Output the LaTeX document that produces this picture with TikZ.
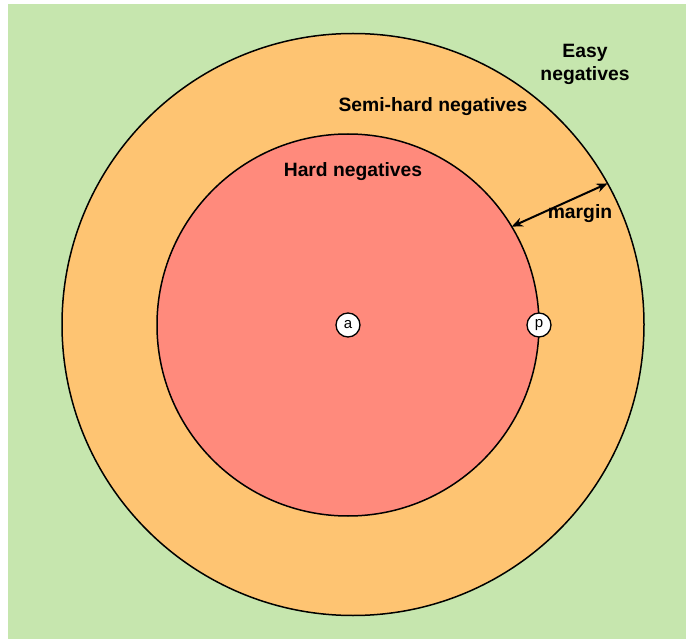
\documentclass[tikz,border=0pt]{standalone}
\usepackage{fontspec}
\setmainfont{Liberation Sans}
\usetikzlibrary{arrows.meta}
\definecolor{easygreen}{RGB}{198,230,174}
\definecolor{semiorange}{RGB}{254,196,114}
\definecolor{hardred}{RGB}{255,138,124}
\tikzset{
  zone/.style={circle, draw=black, line width=1.5pt, inner sep=0pt, outer sep=0pt},
  point/.style={circle, draw=black, fill=white, line width=1.3pt, minimum size=24pt, inner sep=0pt, font=\fontsize{15}{15}\selectfont},
  lbl/.style={font=\bfseries\fontsize{19.3}{23}\selectfont, align=center, inner sep=0pt},
  gap/.style={{Stealth[length=11pt,width=9pt]}-{Stealth[length=11pt,width=9pt]}, line width=2pt}
}
\begin{document}
\begin{tikzpicture}[x=1pt,y=-1pt]
  \useasboundingbox (0,0) rectangle (686,639);
  % background region of easy negatives
  \fill[easygreen] (8,4) rectangle (686,639);
  % semi-hard ring and hard core
  \node[zone, fill=semiorange, minimum size=582pt] (outer) at (353,324.5) {};
  \node[zone, fill=hardred, minimum size=382pt] (inner) at (348,325) {};
  % anchor and positive samples
  \node[point] (a) at (348,325) {a};
  \node[point] (p) at (539,325) {p};
  % margin between the two boundaries
  \draw[gap] (inner.31.6) -- (outer.29.3);
  \node[lbl, anchor=center] (margin) at (580,214) {margin};
  % region labels
  \node[lbl] (easy) at (585,64) {Easy\\negatives};
  \node[lbl] (semi) at (433,107) {Semi-hard negatives};
  \node[lbl] (hard) at (353,172) {Hard negatives};
\end{tikzpicture}
\end{document}
